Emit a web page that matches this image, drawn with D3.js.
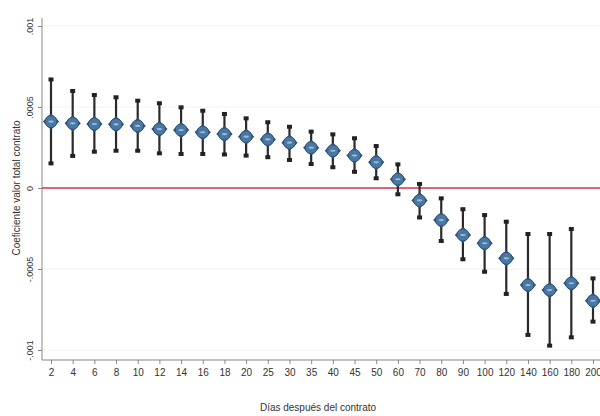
<!DOCTYPE html>
<html><head><meta charset="utf-8">
<script src="https://cdn.jsdelivr.net/npm/d3@7"></script>
<style>body{margin:0;background:#fff}svg{display:block}</style>
</head><body>
<svg id="c" width="600" height="416"></svg>
<script>
const categories = ["2","4","6","8","10","12","14","16","18","20","25","30","35","40","45","50","60","70","80","90","100","120","140","160","180","200"];
const coef  = [0.000410,0.000399,0.000395,0.000393,0.000383,0.000364,0.000358,0.000344,0.000333,0.000317,0.000300,0.000280,0.000249,0.000230,0.000200,0.000159,0.000054,-0.000077,-0.000198,-0.000290,-0.000341,-0.000434,-0.000599,-0.000630,-0.000588,-0.000696];
const upper = [0.000670,0.000599,0.000574,0.000560,0.000539,0.000523,0.000498,0.000477,0.000457,0.000430,0.000406,0.000378,0.000348,0.000331,0.000307,0.000259,0.000146,0.000025,-0.000064,-0.000131,-0.000167,-0.000208,-0.000284,-0.000284,-0.000253,-0.000558];
const lower = [0.000152,0.000198,0.000224,0.000230,0.000230,0.000214,0.000210,0.000210,0.000207,0.000200,0.000190,0.000173,0.000148,0.000128,0.000100,0.000060,-0.000039,-0.000182,-0.000327,-0.000440,-0.000517,-0.000654,-0.000907,-0.000973,-0.000922,-0.000825];
const yTicks = [0.001, 0.0005, 0, -0.0005, -0.001];
const yTickLabels = [".001", ".0005", "0", "-.0005", "-.001"];
const yTitle = "Coeficiente valor total contrato";
const xTitle = "Días después del contrato";

const svg = d3.select("#c");
const font = "'Liberation Sans Narrow', 'Liberation Sans', Arial, sans-serif";
const x = d3.scalePoint().domain(categories).range([51, 593]);
const y = d3.scaleLinear().domain([-0.001, 0.001]).range([350, 26]);
const left = 42, bottom = 360;

// faint gridlines
svg.append("g").selectAll("line").data(yTicks.filter(d => d !== 0)).join("line")
  .attr("x1", left).attr("x2", 600).attr("y1", d => y(d)).attr("y2", d => y(d))
  .attr("stroke", "#f2f2f2").attr("stroke-width", 1);

// y axis
const ya = svg.append("g").attr("transform", `translate(${left},0)`)
  .call(d3.axisLeft(y).tickValues(yTicks).tickFormat((d, i) => yTickLabels[i]).tickSize(4).tickSizeOuter(0));
ya.select(".domain").attr("stroke", "#888").attr("d", `M0,18V${bottom}`);
ya.selectAll(".tick line").attr("stroke", "#888");
ya.selectAll(".tick text").attr("font-family", font).attr("font-size", 9).attr("fill", "#333")
  .attr("text-anchor", "middle").attr("dy", 0)
  .attr("transform", "translate(-9,0) rotate(-90)").attr("x", 0).attr("y", 0);

// x axis
const xa = svg.append("g").attr("transform", `translate(0,${bottom})`)
  .call(d3.axisBottom(x).tickSize(4).tickSizeOuter(0));
xa.select(".domain").attr("stroke", "#888").attr("d", `M${left},0H600`);
xa.selectAll(".tick line").attr("stroke", "#888");
xa.selectAll(".tick text").attr("font-family", font).attr("font-size", 10).attr("fill", "#333").attr("y", 9);

// titles
svg.append("text").attr("transform", `translate(20,${y(0)}) rotate(-90)`).attr("text-anchor", "middle")
  .attr("font-family", font).attr("font-size", 10).attr("fill", "#333").text(yTitle);
svg.append("text").attr("x", 318).attr("y", 411).attr("text-anchor", "middle")
  .attr("font-family", font).attr("font-size", 10).attr("fill", "#333").text(xTitle);

// zero line
svg.append("line").attr("x1", left).attr("x2", 600).attr("y1", y(0)).attr("y2", y(0))
  .attr("stroke", "#d0304a").attr("stroke-width", 1.6);

// error bars
const g = svg.append("g");
const data = categories.map((c, i) => ({c, m: coef[i], lo: lower[i], hi: upper[i]}));
g.selectAll("line.bar").data(data).join("line").attr("class", "bar")
  .attr("x1", d => x(d.c)).attr("x2", d => x(d.c)).attr("y1", d => y(d.hi)).attr("y2", d => y(d.lo))
  .attr("stroke", "#2a2a2a").attr("stroke-width", 2.2);
g.selectAll("rect.caphi").data(data).join("rect").attr("class", "caphi")
  .attr("x", d => x(d.c) - 2.5).attr("y", d => y(d.hi) - 2).attr("width", 5).attr("height", 4).attr("fill", "#222");
g.selectAll("rect.caplo").data(data).join("rect").attr("class", "caplo")
  .attr("x", d => x(d.c) - 2.5).attr("y", d => y(d.lo) - 2).attr("width", 5).attr("height", 4).attr("fill", "#222");

// markers
const sq = d3.symbol().type(d3.symbolSquare).size(110);
g.selectAll("path.mk").data(data).join("path").attr("class", "mk")
  .attr("transform", d => `translate(${x(d.c)},${y(d.m)}) rotate(45)`).attr("d", sq)
  .attr("fill", "#4a78a4").attr("stroke", "#27496d").attr("stroke-width", 1);
g.selectAll("circle.mk2").data(data).join("circle").attr("class", "mk2")
  .attr("cx", d => x(d.c)).attr("cy", d => y(d.m)).attr("r", 6)
  .attr("fill", "#4a78a4").attr("stroke", "#2c4f75").attr("stroke-width", 1);
g.selectAll("ellipse.mk3").data(data).join("ellipse").attr("class", "mk3")
  .attr("cx", d => x(d.c)).attr("cy", d => y(d.m)).attr("rx", 2.8).attr("ry", 1.1)
  .attr("fill", "#9fbad5");
</script>
</body></html>
